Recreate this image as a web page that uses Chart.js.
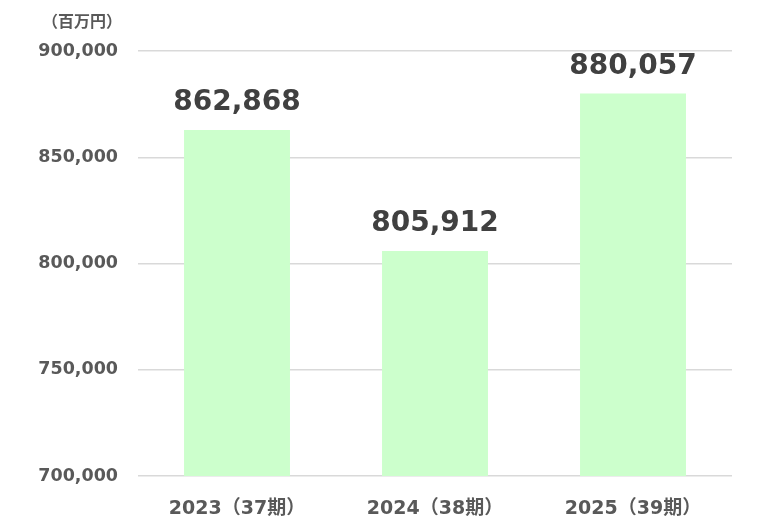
<!DOCTYPE html>
<html><head><meta charset="utf-8">
<script src="https://cdn.jsdelivr.net/npm/chart.js@4"></script>
<style>html,body{margin:0;padding:0;background:#fff}#wrap{width:757px;height:531px;position:relative}</style>
</head><body><div id="wrap"><canvas id="c"></canvas></div>
<script>
const categories = ["2023（37期）", "2024（38期）", "2025（39期）"];
const sales = [862868, 805912, 880057];
const yTicks = [700000, 750000, 800000, 850000, 900000];
const unitLabel = "（百万円）";

const FONT = "'DejaVu Sans', 'Noto Sans CJK JP', sans-serif";
const fmt = v => v.toLocaleString('en-US');

const labelPlugin = {
  id: 'labels',
  afterDatasetsDraw(chart) {
    const ctx = chart.ctx;
    const meta = chart.getDatasetMeta(0);
    ctx.save();
    ctx.fillStyle = '#404040';
    ctx.font = "bold 28px " + FONT;
    ctx.textAlign = 'center';
    ctx.textBaseline = 'bottom';
    meta.data.forEach((bar, i) => {
      ctx.fillText(fmt(sales[i]), bar.x, bar.y - 13);
    });
    ctx.font = "bold 16px 'Noto Sans CJK JP', sans-serif";
    ctx.fillStyle = '#595959';
    ctx.textAlign = 'right';
    ctx.textBaseline = 'middle';
    ctx.fillText(unitLabel, 122, 21);
    ctx.restore();
  }
};

new Chart(document.getElementById('c'), {
  type: 'bar',
  data: {
    labels: categories,
    datasets: [{
      data: sales,
      backgroundColor: '#ccffcc',
      borderWidth: 0,
      categoryPercentage: 1,
      barPercentage: 0.535
    }]
  },
  options: {
    responsive: true,
    maintainAspectRatio: false,
    animation: false,
    layout: { padding: { top: 51, right: 25, left: 0, bottom: 0 } },
    plugins: { legend: { display: false }, tooltip: { enabled: false } },
    scales: {
      x: {
        grid: { display: false, drawTicks: false },
        border: { display: false },
        ticks: { color: '#595959', font: { family: FONT, size: 19, weight: 'bold' }, padding: 22 },
        afterFit(s) { s.height = 55; }
      },
      y: {
        min: yTicks[0], max: yTicks[yTicks.length - 1],
        afterBuildTicks(s) { s.ticks = yTicks.map(v => ({ value: v })); },
        grid: { color: '#d9d9d9', lineWidth: 1.5, drawTicks: false },
        border: { display: false },
        ticks: { color: '#595959', font: { family: FONT, size: 17.5, weight: 'bold' }, padding: 20, callback: v => fmt(v) },
        afterFit(s) { s.width = 138; }
      }
    }
  },
  plugins: [labelPlugin]
});
</script></body></html>
